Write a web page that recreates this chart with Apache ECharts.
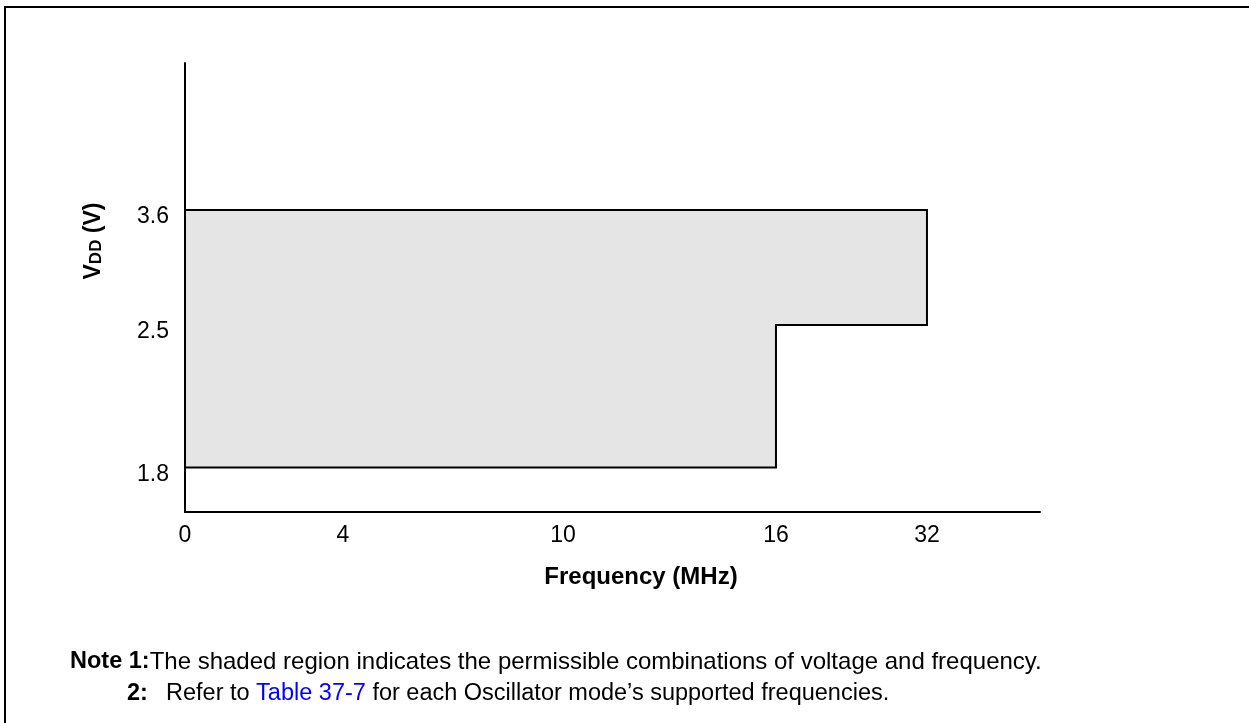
<!DOCTYPE html>
<html>
<head>
<meta charset="utf-8">
<script src="https://cdn.jsdelivr.net/npm/echarts@6/dist/echarts.min.js"></script>
<style>
html,body{margin:0;padding:0;background:#fff;}
#chart{width:1249px;height:723px;}
</style>
</head>
<body>
<div id="chart"></div>
<script>
// ---- data ----
const freqTicks = [0, 4, 10, 16, 32];          // MHz tick labels (schematic, non-linear axis)
const vddTicks = [1.8, 2.5, 3.6];              // V tick labels (schematic, non-linear axis)
const regionFreq = [0, 16, 16, 32, 32, 0];     // shaded region outline, frequency (MHz)
const regionVdd = [1.8, 1.8, 2.5, 2.5, 3.6, 3.6]; // shaded region outline, VDD (V)
const xTitle = 'Frequency (MHz)';
const note1 = 'The shaded region indicates the permissible combinations of voltage and frequency.';
const note2a = 'Refer to ';
const note2link = 'Table 37-7';
const note2b = ' for each Oscillator mode\u2019s supported frequencies.';

// ---- schematic axis layout (where each tick sits along its axis, 0..1) ----
const xTickPos = [0, 0.1848, 0.4421, 0.6912, 0.8678];
const yTickPos = [0.0991, 0.4165, 0.6726];

function piecewise(v, ticks, pos) {
  let i = 0;
  while (i < ticks.length - 2 && v > ticks[i + 1]) i++;
  const t = (v - ticks[i]) / (ticks[i + 1] - ticks[i]);
  return pos[i] + t * (pos[i + 1] - pos[i]);
}
function labelFor(v, ticks, pos) {
  for (let i = 0; i < pos.length; i++) if (Math.abs(pos[i] - v) < 1e-6) return String(ticks[i]);
  return '';
}
const regionData = regionFreq.map((f, i) => [
  piecewise(f, freqTicks, xTickPos),
  piecewise(regionVdd[i], vddTicks, yTickPos)
]);

const font = '"Liberation Sans", Arial, Helvetica, sans-serif';
const chart = echarts.init(document.getElementById('chart'), null, {renderer: 'canvas'});
chart.setOption({
  animation: false,
  backgroundColor: '#fff',
  grid: {left: 185, right: 209, top: 63, bottom: 211, containLabel: false},
  xAxis: {
    type: 'value', min: 0, max: 1,
    splitLine: {show: false},
    axisTick: {show: false},
    axisLine: {show: true, onZero: false, lineStyle: {color: '#000', width: 2}},
    axisLabel: {
      show: true, customValues: xTickPos, margin: 12,
      color: '#000', fontSize: 23, fontFamily: font,
      formatter: v => labelFor(v, freqTicks, xTickPos)
    }
  },
  yAxis: {
    type: 'value', min: 0, max: 1,
    splitLine: {show: false},
    axisTick: {show: false},
    axisLine: {show: true, onZero: false, lineStyle: {color: '#000', width: 2}},
    axisLabel: {
      show: true, customValues: yTickPos, margin: 16,
      color: '#000', fontSize: 23, fontFamily: font,
      verticalAlign: 'top', lineHeight: 14,
      formatter: v => labelFor(v, vddTicks, yTickPos)
    }
  },
  series: [{
    type: 'custom',
    coordinateSystem: 'cartesian2d',
    data: regionData,
    encode: {x: 0, y: 1},
    renderItem: function (params, api) {
      if (params.dataIndex !== 0) return null;
      const pts = regionData.map(d => api.coord(d));
      return {
        type: 'polygon',
        shape: {points: pts},
        style: {fill: '#e5e5e5', stroke: '#000', lineWidth: 2}
      };
    },
    z: 1
  }],
  graphic: [
    {type: 'polyline', shape: {points: [[5, 723], [5, 7], [1249, 7]]},
     style: {stroke: '#000', lineWidth: 2, fill: null}, z: 10},
    {type: 'text', x: 641, y: 577,
     style: {text: xTitle, font: 'bold 24px ' + font, fill: '#000', align: 'center', verticalAlign: 'middle'}},
    {type: 'text', x: 92, y: 241, rotation: Math.PI / 2,
     style: {
       text: '{a|V}{b|DD}{a| (V)}',
       align: 'center', verticalAlign: 'middle',
       rich: {
         a: {font: 'bold 23px ' + font, fill: '#000', verticalAlign: 'bottom', lineHeight: 26},
         b: {font: 'bold 17px ' + font, fill: '#000', verticalAlign: 'bottom', lineHeight: 26}
       }
     }},
    {type: 'text', x: 70, y: 662,
     style: {
       text: '{b|Note 1:}{n|' + note1 + '}',
       align: 'left', verticalAlign: 'middle',
       rich: {
         b: {font: 'bold 23.5px ' + font, fill: '#000'},
         n: {font: '24px ' + font, fill: '#000'}
       }
     }},
    {type: 'text', x: 127, y: 694,
     style: {text: '2:', font: 'bold 23.5px ' + font, fill: '#000', align: 'left', verticalAlign: 'middle'}},
    {type: 'text', x: 166, y: 694,
     style: {
       text: '{n|' + note2a + '}{l|' + note2link + '}{n|' + note2b + '}',
       align: 'left', verticalAlign: 'middle',
       rich: {
         n: {font: '23.5px ' + font, fill: '#000'},
         l: {font: '23.5px ' + font, fill: '#0000ff'}
       }
     }}
  ]
});
</script>
</body>
</html>
